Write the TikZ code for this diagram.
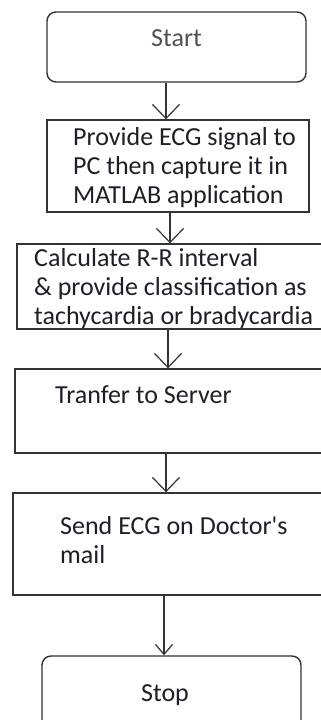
\documentclass[tikz,border=0pt]{standalone}
\usepackage{fontspec}
\setmainfont{Carlito}
\definecolor{FCline}{HTML}{333333}
\definecolor{FCtext}{HTML}{1E1E28}
\definecolor{FCgray}{HTML}{505050}
\usetikzlibrary{arrows.meta, positioning}

\begin{document}
\begin{tikzpicture}[x=1pt, y=-1pt,
    terminal/.style={draw=FCline, line width=1.4pt, rounded corners=9pt, inner sep=0pt},
    stage/.style={draw=FCline, line width=1.4pt, inner sep=0pt},
    txt/.style={inner sep=0pt, text=FCtext, align=left, font=\fontsize{26}{29}\selectfont},
    flow/.style={-{Straight Barb[length=14pt, width=27pt]}, line width=1.2pt, draw=FCline}
]
\useasboundingbox (0,0) rectangle (321,720);
% Start
\node[terminal, minimum width=259pt, minimum height=70pt] (start) at (176.5,47) {};
\node[txt, text=FCgray, anchor=base] (startText) at (176.5,46) {Start};
% ECG capture (base = last line)
\node[stage, minimum width=262pt, minimum height=92pt] (capture) at (178,166) {};
\node[txt, anchor=base west] (captureText) at (73,203)
   {Provide ECG signal to\\PC then capture it in\\MATLAB application};
% R-R interval
\node[stage, minimum width=308pt, minimum height=85pt] (interval) at (171,286.5) {};
\node[txt, anchor=base west] (intervalText) at (34,324)
   {Calculate R-R interval\\\& provide classification as\\tachycardia or bradycardia};
% Server
\node[stage, minimum width=310pt, minimum height=84pt] (server) at (170,411) {};
\node[txt, anchor=base west] (serverText) at (55,403) {Tranfer to Server};
% Mail
\node[stage, minimum width=312pt, minimum height=102pt] (mail) at (169,544) {};
\node[txt, anchor=base west] (mailText) at (60,563) {Send ECG on Doctor\textquotesingle s\\mail};
% Stop
\node[terminal, minimum width=259pt, minimum height=80pt] (stop) at (171.5,696) {};
\node[txt, anchor=base] (stopText) at (165,701) {Stop};
% Connectors
\draw[flow] (start.south -| 166,0) -- (capture.north -| 166,0);
\draw[flow] (capture.south -| 170,0) -- (interval.north -| 170,0);
\draw[flow] (interval.south -| 168,0) -- (server.north -| 168,0);
\draw[flow] (server.south -| 166,0) -- (mail.north -| 166,0);
\draw[flow, -{Straight Barb[length=10pt, width=17pt]}] (mail.south -| 164,0) -- (stop.north -| 164,0);
\end{tikzpicture}
\end{document}
